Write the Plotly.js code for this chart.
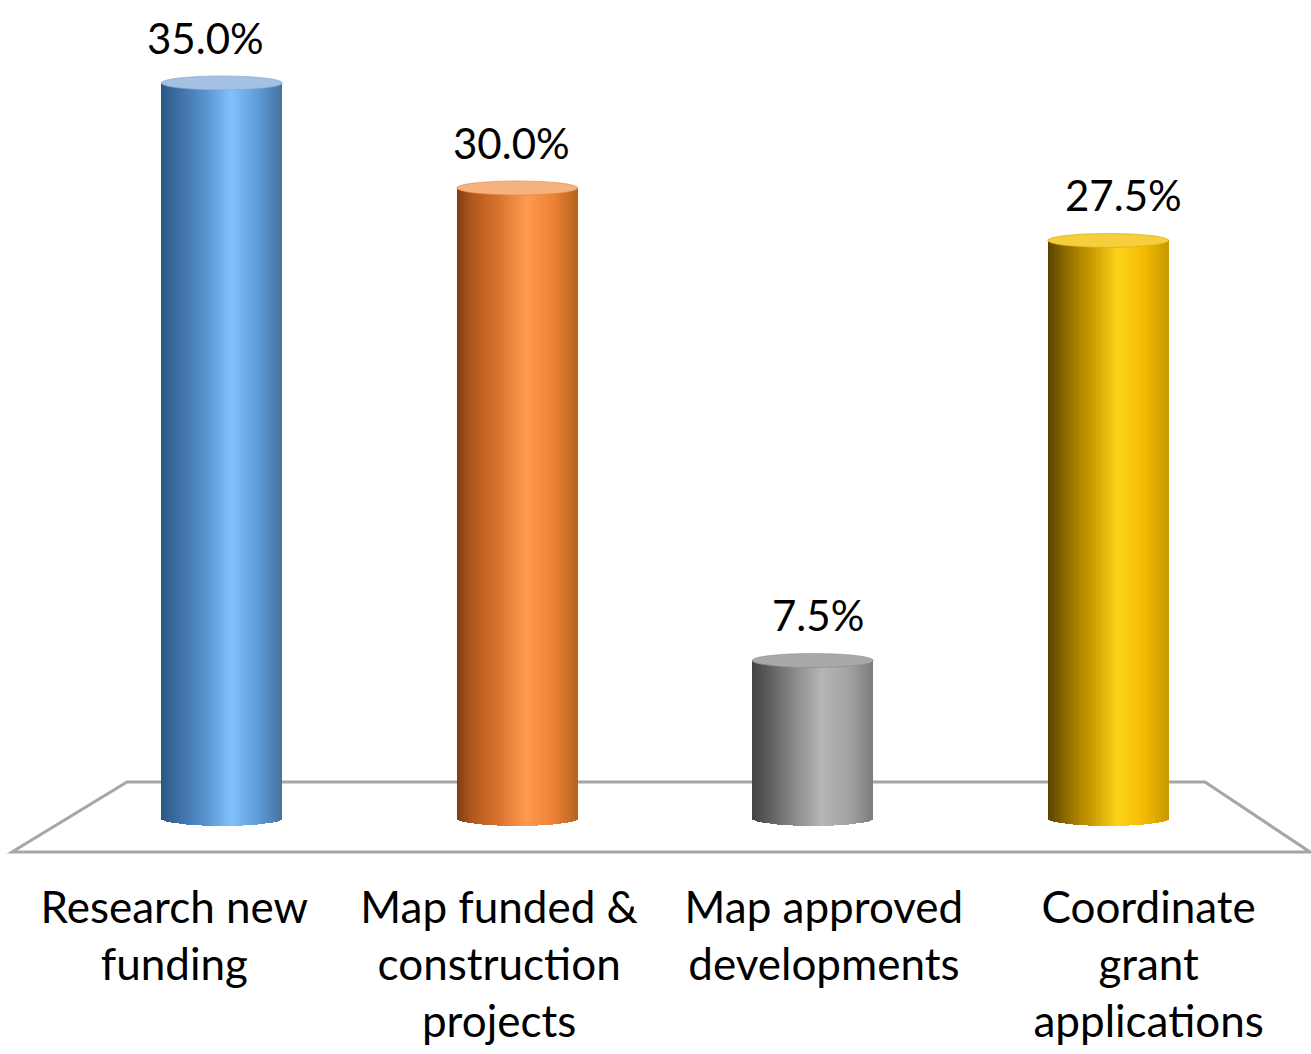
<!DOCTYPE html>
<html><head><meta charset="utf-8">
<script src="https://cdn.plot.ly/plotly-3.0.1.min.js"></script>
<style>html,body{margin:0;padding:0;background:#fff}#chart{width:1311px;height:1054px}</style>
</head><body><div id="chart"></div>
<script>
// ---- data ----
const categories = ["Research new funding", "Map funded & construction projects", "Map approved developments", "Coordinate grant applications"];
const tickLabels = ["Research new<br>funding", "Map funded &<br>construction<br>projects", "Map approved<br>developments", "Coordinate<br>grant<br>applications"];
const shares = [35.0, 30.0, 7.5, 27.5];
const valueLabels = ["35.0%", "30.0%", "7.5%", "27.5%"];

// ---- style ----
const W = 1311, H = 1054, MB = 202, PH = H - MB;
const FONT = "Lato, 'Open Sans', sans-serif";
const YR = [-1.62, 38.95];
const pxPerUnit = PH / (YR[1] - YR[0]);
const BW = 0.41;           // bar width in category units
const N = 48;              // shading strips
const capBottomPx = 8;
const capTopPx = 7;
const shadeStops = [
  [[0,"#2c5784"],[0.12,"#3a6b9f"],[0.35,"#5690cb"],[0.58,"#80c1fd"],[0.8,"#5f9bd6"],[1,"#43729f"]],
  [[0,"#7e3d10"],[0.12,"#b0561c"],[0.35,"#d9742f"],[0.58,"#ff9b4e"],[0.8,"#ec8136"],[1,"#b5621f"]],
  [[0,"#424242"],[0.12,"#5a5a5a"],[0.35,"#8a8a8a"],[0.58,"#b6b6b6"],[0.8,"#a2a2a2"],[1,"#7c7c7c"]],
  [[0,"#574200"],[0.12,"#846300"],[0.35,"#c89800"],[0.58,"#ffd41c"],[0.8,"#f2ba00"],[1,"#c69800"]]
];
const topColors = ["#a4c0e2", "#f5b27f", "#a9a9a9", "#f6cd3a"];
const topLines = ["#7f9fc8", "#d98a4e", "#8a8a8a", "#d4a800"];

function hex(h){return [parseInt(h.slice(1,3),16),parseInt(h.slice(3,5),16),parseInt(h.slice(5,7),16)];}
function shade(stops,u){
  for(let k=0;k<stops.length-1;k++){
    const [u0,c0]=stops[k],[u1,c1]=stops[k+1];
    if(u<=u1){const t=(u-u0)/(u1-u0);const a=hex(c0),b=hex(c1);
      return "rgb("+a.map((v,j)=>Math.round(v+(b[j]-v)*t)).join(",")+")";}
  }
  return stops[stops.length-1][1];
}

const traces = [];
for(let i=0;i<N;i++){
  const u=(i+0.5)/N;
  const s=2*u-1;
  const depth = capBottomPx/pxPerUnit*Math.sqrt(Math.max(0,1-s*s));
  const base = shares.map(()=>-depth);
  traces.push({
    type:"bar", x:categories, y:shares.map(v=>v+depth), base:base,
    offset:-BW/2+i*BW/N, width:(i===N-1?BW/N:BW/N*1.25),
    marker:{color:shadeStops.map(st=>shade(st,u)), line:{width:0}},
    hoverinfo:"skip", showlegend:false
  });
}
// helper traces for label axes
traces.push({type:"scatter", x:categories, y:shares, xaxis:"x2", yaxis:"y", mode:"markers", marker:{opacity:0}, hoverinfo:"skip", showlegend:false});
traces.push({type:"scatter", x:[0,1,2,3], y:shares, xaxis:"x3", yaxis:"y", mode:"markers", marker:{opacity:0}, hoverinfo:"skip", showlegend:false});

const shapes = [];
// floor
const px = v=>v/W, py = v=>(PH-v)/PH;
shapes.push({type:"path", xref:"paper", yref:"paper", layer:"below",
  path:`M ${px(127)} ${py(782)} L ${px(1205)} ${py(782)} L ${px(1310)} ${py(852)} L ${px(12)} ${py(852)} Z`,
  line:{color:"#a6a6a6", width:3}, fillcolor:"rgba(0,0,0,0)"});
// top caps
shares.forEach((v,c)=>{
  shapes.push({type:"circle", xref:"x", yref:"y", layer:"above",
    x0:c-BW/2, x1:c+BW/2, ysizemode:"pixel", yanchor:v, y0:-capTopPx, y1:capTopPx,
    fillcolor:topColors[c], line:{color:topLines[c], width:0.6}});
});

const annotations = shares.map((v,c)=>({
  xref:"x3", yref:"y", x:c, y:v, text:valueLabels[c], showarrow:false,
  yanchor:"middle", yshift:45, font:{family:FONT, size:42, color:"#000"}
}));

const layout = {
  width:W, height:H, margin:{l:0,r:0,t:0,b:MB},
  paper_bgcolor:"#fff", plot_bgcolor:"rgba(0,0,0,0)",
  barmode:"overlay", bargap:0, showlegend:false,
  xaxis:{domain:[74/W,1256/W], type:"category", range:[-0.5,3.5], showticklabels:false, showgrid:false, zeroline:false, showline:false, ticks:""},
  xaxis2:{domain:[12/W,1], type:"category", range:[-0.5,3.5], anchor:"y",
    tickvals:categories, ticktext:tickLabels, showgrid:false, zeroline:false, showline:false, ticks:"",
    tickfont:{family:FONT, size:44, color:"#000"}, ticklabelstandoff:26},
  xaxis3:{domain:[52.5/W,1276.5/W], range:[-0.5,3.5], anchor:"y", showticklabels:false, showgrid:false, zeroline:false, showline:false, ticks:""},
  yaxis:{range:YR, visible:false, showgrid:false, zeroline:false},
  shapes:shapes, annotations:annotations,
  font:{family:FONT}
};
Plotly.newPlot("chart", traces, layout, {displayModeBar:false, staticPlot:true});
</script>
</body></html>
